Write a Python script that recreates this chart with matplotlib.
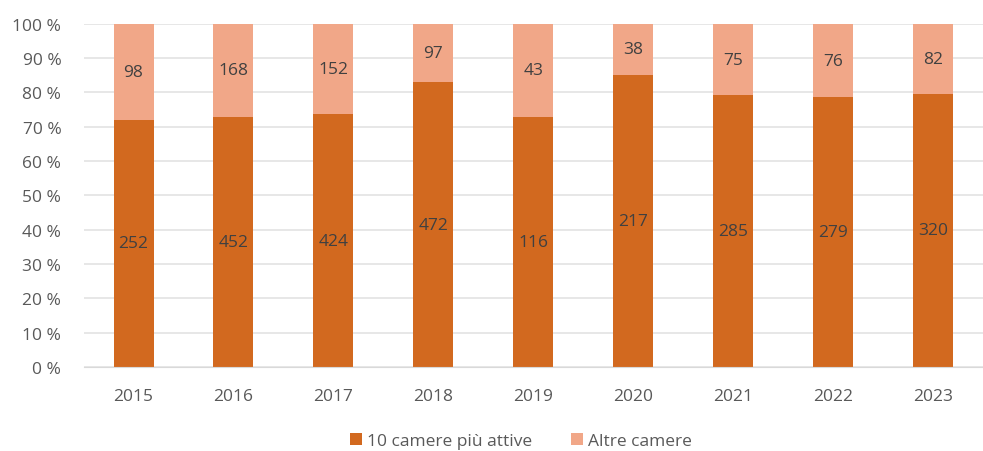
import matplotlib.pyplot as plt
import numpy as np

plt.rcParams["font.family"] = ["Open Sans", "DejaVu Sans"]

years = ["2015", "2016", "2017", "2018", "2019", "2020", "2021", "2022", "2023"]
top10 = [252, 452, 424, 472, 116, 217, 285, 279, 320]
altre = [98, 168, 152, 97, 43, 38, 75, 76, 82]

top10 = np.array(top10, dtype=float)
altre = np.array(altre, dtype=float)
tot = top10 + altre
p_top = top10 / tot * 100
p_alt = altre / tot * 100

c_dark = "#D2691F"
c_light = "#F1A788"

fig = plt.figure(figsize=(9.83, 4.52), dpi=100)
ax = fig.add_axes([0.085, 0.186, 0.915, 0.759])

x = np.arange(len(years))
w = 0.4
ax.bar(x, p_top, w, color=c_dark, label="10 camere più attive", zorder=2)
ax.bar(x, p_alt, w, bottom=p_top, color=c_light, label="Altre camere", zorder=2)

for i in range(len(years)):
    ax.text(x[i], p_top[i] / 2, f"{int(top10[i])}", ha="center", va="center",
            fontsize=12.5, color="#404040", zorder=3)
    ax.text(x[i], p_top[i] + p_alt[i] / 2, f"{int(altre[i])}", ha="center", va="center",
            fontsize=12.5, color="#404040", zorder=3)

ax.set_xlim(-0.5, len(years) - 0.5)
ax.set_ylim(0, 100)
ax.set_yticks(range(0, 101, 10))
ax.set_yticklabels([f"{v} %" for v in range(0, 101, 10)])
ax.set_xticks(x)
ax.set_xticklabels(years)
ax.yaxis.grid(True, color="#E3E3E3", linewidth=1.2, zorder=0)
ax.tick_params(axis="both", length=0, labelsize=12.5, colors="#595959")
ax.tick_params(axis="x", pad=15)
ax.tick_params(axis="y", pad=16)
for s in ax.spines.values():
    s.set_visible(False)
ax.spines["bottom"].set_visible(True)
ax.spines["bottom"].set_color("#D9D9D9")

fig.legend(loc="lower center", bbox_to_anchor=(0.53, -0.03), ncol=2, frameon=False,
           fontsize=12.5, handlelength=0.7, handleheight=0.7, handletextpad=0.3,
           columnspacing=2.2, labelcolor="#595959")

fig.savefig("out.png", dpi=100)
